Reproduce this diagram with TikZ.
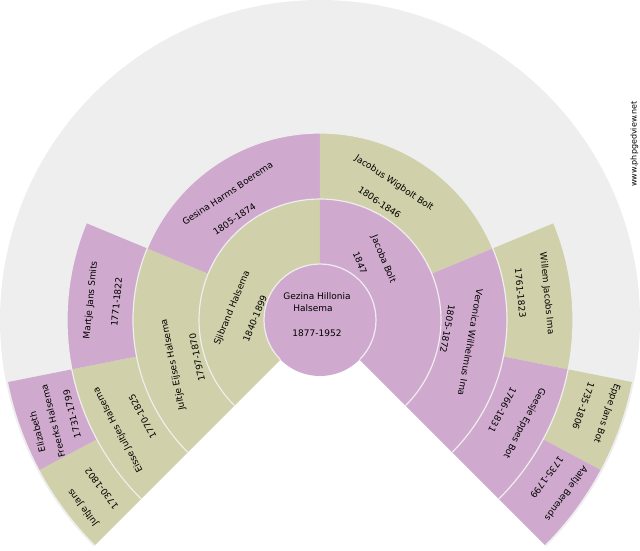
\documentclass[tikz,border=0pt]{standalone}
\usepackage{fontspec}
\setmainfont{DejaVu Sans}
\usepackage{tikz}
\definecolor{fanpink}{RGB}{208,170,206}
\definecolor{fankhaki}{RGB}{208,208,170}
\definecolor{fangrey}{RGB}{238,238,238}

\begin{document}
\begin{tikzpicture}[x=1pt,y=1pt]
\tikzstyle{female}=[fill=fanpink]
\tikzstyle{male}=[fill=fankhaki]
\tikzstyle{ring}=[draw=fangrey,line width=1.2pt]
\tikzstyle{fantext}=[inner sep=0pt,font=\fontsize{9}{10}\selectfont,text height=6.6pt,text depth=0pt]
\useasboundingbox (-320,-230) rectangle (320,320);
\fill[fangrey] (0,0) -- (225:320pt) arc[start angle=225,end angle=-45,radius=320pt] -- cycle;
% generation 1
\fill[male] (225:56pt) arc[start angle=225,end angle=90,radius=56pt] -- (90:121pt) arc[start angle=90,end angle=225,radius=121pt] -- cycle;
\fill[female] (90:56pt) arc[start angle=90,end angle=-45,radius=56pt] -- (-45:121pt) arc[start angle=-45,end angle=90,radius=121pt] -- cycle;
% generation 2
\fill[male] (225:121pt) arc[start angle=225,end angle=157.5,radius=121pt] -- (157.5:187pt) arc[start angle=157.5,end angle=225,radius=187pt] -- cycle;
\fill[female] (157.5:121pt) arc[start angle=157.5,end angle=90,radius=121pt] -- (90:187pt) arc[start angle=90,end angle=157.5,radius=187pt] -- cycle;
\fill[male] (90:121pt) arc[start angle=90,end angle=22.5,radius=121pt] -- (22.5:187pt) arc[start angle=22.5,end angle=90,radius=187pt] -- cycle;
\fill[female] (22.5:121pt) arc[start angle=22.5,end angle=-45,radius=121pt] -- (-45:187pt) arc[start angle=-45,end angle=22.5,radius=187pt] -- cycle;
% generation 3
\fill[male] (225:187pt) arc[start angle=225,end angle=191.25,radius=187pt] -- (191.25:253pt) arc[start angle=191.25,end angle=225,radius=253pt] -- cycle;
\fill[female] (191.25:187pt) arc[start angle=191.25,end angle=157.5,radius=187pt] -- (157.5:253pt) arc[start angle=157.5,end angle=191.25,radius=253pt] -- cycle;
\fill[male] (22.5:187pt) arc[start angle=22.5,end angle=-11.25,radius=187pt] -- (-11.25:253pt) arc[start angle=-11.25,end angle=22.5,radius=253pt] -- cycle;
\fill[female] (-11.25:187pt) arc[start angle=-11.25,end angle=-45,radius=187pt] -- (-45:253pt) arc[start angle=-45,end angle=-11.25,radius=253pt] -- cycle;
% generation 4
\fill[male] (225:253pt) arc[start angle=225,end angle=208.125,radius=253pt] -- (208.125:318pt) arc[start angle=208.125,end angle=225,radius=318pt] -- cycle;
\fill[female] (208.125:253pt) arc[start angle=208.125,end angle=191.25,radius=253pt] -- (191.25:318pt) arc[start angle=191.25,end angle=208.125,radius=318pt] -- cycle;
\fill[male] (-11.25:253pt) arc[start angle=-11.25,end angle=-28.125,radius=253pt] -- (-28.125:318pt) arc[start angle=-28.125,end angle=-11.25,radius=318pt] -- cycle;
\fill[female] (-28.125:253pt) arc[start angle=-28.125,end angle=-45,radius=253pt] -- (-45:318pt) arc[start angle=-45,end angle=-28.125,radius=318pt] -- cycle;
% root
\fill[female] (0,0) circle[radius=56pt];
\draw[ring] (225:56pt) arc[start angle=225,end angle=-45,radius=56pt];
\draw[ring] (225:121pt) arc[start angle=225,end angle=-45,radius=121pt];
\draw[ring] (225:187pt) arc[start angle=225,end angle=-45,radius=187pt];
\draw[ring] (225:253pt) arc[start angle=225,end angle=-45,radius=253pt];
\node[fantext] (P_1) at (-3,24) {Gezina Hillonia};
\node[fantext] (P_1b) at (-7,12) {Halsema};
\node[fantext] (D_1) at (-3,-13) {1877-1952};
\node[fantext,rotate=67.5] (P_2) at (-88.5,12) {Sjibrand Halsema};
\node[fantext,rotate=67.5] (D_2) at (-65,1.5) {1840-1899};
\node[fantext,rotate=-67.5] (P_3) at (64,61) {Jacoba Bolt};
\node[fantext,rotate=-67.5] (D_3) at (40,57) {1847};
\node[fantext,rotate=101.25] (P_4) at (-147.5,-45) {Jultje Eijses Halsema};
\node[fantext,rotate=101.25] (D_4) at (-123,-37.5) {1797-1870};
\node[fantext,rotate=33.75] (P_5) at (-92.5,126.5) {Gesina Harms Boerema};
\node[fantext,rotate=33.75] (D_5) at (-85.5,101) {1805-1874};
\node[fantext,rotate=-33.75] (P_6) at (74.5,137.5) {Jacobus Wigbolt Bolt};
\node[fantext,rotate=-33.75] (D_6) at (59.5,117.5) {1806-1846};
\node[fantext,rotate=-100] (P_7) at (150.5,-22.5) {Veronica Wilhelmus Ima};
\node[fantext,rotate=-100] (D_7) at (127.5,-9) {1805-1872};
\node[fantext,rotate=118.125] (P_8) at (-202.5,-110.5) {Eisse Jultjes Halsema};
\node[fantext,rotate=118.125] (D_8) at (-177.5,-96.5) {1770-1825};
\node[fantext,rotate=84.375] (P_9) at (-230,20) {Martje Jans Smits};
\node[fantext,rotate=84.375] (D_9) at (-203.5,18) {1771-1822};
\node[fantext,rotate=-84.375] (P_14) at (227.5,26.5) {Willem Jacobs Ima};
\node[fantext,rotate=-84.375] (D_14) at (200.5,27) {1761-1823};
\node[fantext,rotate=-118.125] (P_15) at (205,-103.5) {Geesje Eppes Bot};
\node[fantext,rotate=-118.125] (D_15) at (182.5,-90) {1766-1831};
\node[fantext,rotate=127] (P_16) at (-237.5,-188) {Jultje Jans};
\node[fantext,rotate=127] (D_16) at (-218.5,-168.5) {1730-1802};
\node[fantext,rotate=104] (P_17) at (-282.5,-112) {Elizabeth};
\node[fantext,rotate=104] (P_17b) at (-267,-101) {Freerks Halsema};
\node[fantext,rotate=104] (D_17) at (-248,-94) {1731-1799};
\node[fantext,rotate=-109.7] (P_30) at (287.5,-93.5) {Eppe Jans Bot};
\node[fantext,rotate=-109.7] (D_30) at (263.5,-86) {1735-1806};
\node[fantext,rotate=-126.5] (P_31) at (246.5,-173.5) {Aaltje Berends};
\node[fantext,rotate=-126.5] (D_31) at (227,-157.5) {1735-1799};
\node[inner sep=0pt,font=\fontsize{8}{9}\selectfont,rotate=90] (site) at (314.5,176) {www.phpgedview.net};
\end{tikzpicture}
\end{document}
